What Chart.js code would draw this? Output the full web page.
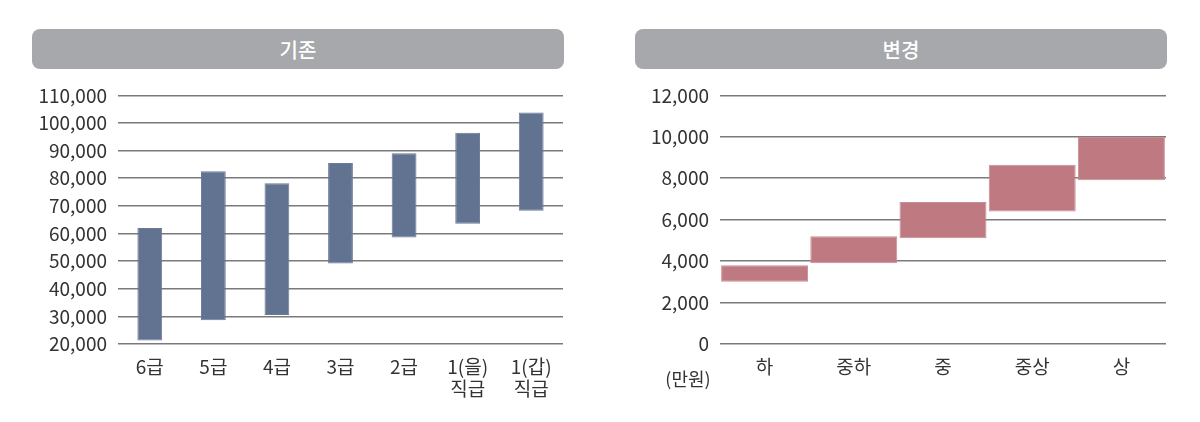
<!DOCTYPE html>
<html><head><meta charset="utf-8">
<script src="https://cdn.jsdelivr.net/npm/chart.js@4/dist/chart.umd.min.js"></script>
<style>
html,body{margin:0;padding:0;background:#fff;width:1200px;height:422px;overflow:hidden;font-family:"Noto Sans CJK KR","Noto Sans",sans-serif;}
.hdr{position:absolute;top:29px;height:40px;background:#a7a8ab;border-radius:8px;color:#fff;font-size:20px;font-weight:500;display:flex;align-items:center;justify-content:center;z-index:2;}
.box{position:absolute;top:73px;width:600px;height:349px;}
#unit{position:absolute;left:648px;top:365px;width:80px;text-align:center;font-size:18px;color:#333;}
</style></head>
<body>
<div class="box" style="left:0"><canvas id="c1" width="600" height="349"></canvas></div>
<div class="box" style="left:600px"><canvas id="c2" width="600" height="349"></canvas></div>
<div class="hdr" style="left:32px;width:532px;">기존</div>
<div class="hdr" style="left:635px;width:532px;">변경</div>
<div id="unit">(만원)</div>
<script>
const gradeLabels = ['6급','5급','4급','3급','2급',['1(을)','직급'],['1(갑)','직급']];
const gradeLow  = [21300, 28600, 30500, 49100, 58600, 63500, 68200];
const gradeHigh = [62000, 82500, 78200, 85500, 89100, 96500, 103800];

const levelLabels = ['하','중하','중','중상','상'];
const levelLow  = [3000, 3900, 5100, 6400, 7900];
const levelHigh = [3800, 5200, 6850, 8650, 10000];

const tickFont = {family:'"Noto Sans CJK KR","Noto Sans",sans-serif', size:19, lineHeight:1.2};
const tickColor = '#333';
const gridColor = '#7a7a7a';

function makeChart(id, labels, lows, highs, color, border, barPct, yMin, yMax, step, yWidth, padRight) {
  return new Chart(document.getElementById(id), {
    type: 'bar',
    data: {
      labels: labels,
      datasets: [{
        data: lows.map((l, i) => [l, highs[i]]),
        backgroundColor: color,
        borderColor: border,
        borderWidth: 1,
        borderSkipped: false,
        barPercentage: barPct,
        categoryPercentage: 1
      }]
    },
    options: {
      responsive: false,
      animation: false,
      layout: {padding: {left: 0, right: padRight, top: 4, bottom: 0}},
      plugins: {legend: {display: false}, tooltip: {enabled: false}},
      scales: {
        x: {
          grid: {display: false, drawTicks: false},
          border: {display: false},
          ticks: {font: tickFont, color: tickColor, padding: 11, maxRotation: 0, autoSkip: false},
          afterFit: s => { s.height = 78; }
        },
        y: {
          min: yMin, max: yMax,
          grid: {color: gridColor, lineWidth: 1.6, drawTicks: false},
          border: {display: false},
          ticks: {stepSize: step, font: tickFont, color: tickColor, padding: 11,
                  callback: v => Number(v).toLocaleString('en-US')},
          afterFit: s => { s.width = yWidth; }
        }
      }
    }
  });
}

makeChart('c1', gradeLabels, gradeLow, gradeHigh, '#627291', '#6b7a97', 0.39, 20000, 110000, 10000, 118, 37);
makeChart('c2', levelLabels, levelLow, levelHigh, '#be7981', '#c88d94', 0.975, 0, 12000, 2000, 120, 34);
</script>
</body></html>
